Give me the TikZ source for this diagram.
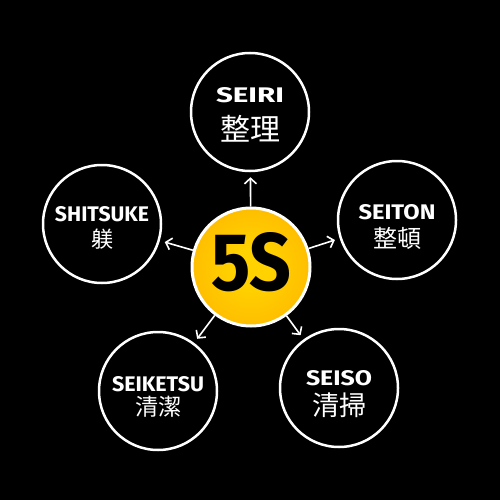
\documentclass[tikz,border=0pt]{standalone}
\usepackage{fontspec}
\setmainfont{Fira Sans}
\newfontfamily\cjk{Noto Sans CJK JP}
\usetikzlibrary{arrows.meta,shadings}
\definecolor{sunin}{HTML}{FFD200}
\definecolor{sunmid}{HTML}{FFB800}
\definecolor{sunout}{HTML}{F39500}
\pgfdeclareradialshading{sun}{\pgfpoint{0bp}{0bp}}{color(0bp)=(sunin); color(8bp)=(sunin); color(30bp)=(sunmid); color(50bp)=(sunout); color(100bp)=(sunout)}
\newcommand\mylab[2]{\resizebox{#1}{15pt}{\bfseries #2}}
\begin{document}
\begin{tikzpicture}[x=1pt,y=-1pt,
  ring/.style={circle,draw=white,line width=2.5pt,minimum size=118pt,inner sep=0pt},
  lbl/.style={text=white,inner sep=0pt},
  kj/.style={text=white,inner sep=0pt},
  arr/.style={white,line width=1.6pt,-{Straight Barb[length=5.5pt,width=12pt]},shorten >=5pt}]
\fill[black] (0,0) rectangle (500,500);
\useasboundingbox (0,0) rectangle (500,500);
% outer circles
\node[ring] (seiri) at (250,112) {};
\node[ring] (seiton) at (397,220) {};
\node[ring] (seiso) at (339,388) {};
\node[ring] (seiketsu) at (158,391) {};
\node[ring] (shitsuke) at (102,224) {};
% centre
\node[circle,draw=white,line width=3pt,minimum size=118pt,inner sep=0pt,shading=sun] (c) at (251,267) {};
\node[inner sep=0pt,text=black] (fs) at (251,262) {\resizebox{80pt}{58pt}{\bfseries 5S}};
% arrows
\draw[arr] (c) -- (seiri);
\draw[arr] (c) -- (seiton);
\draw[arr] (c) -- (seiso);
\draw[arr] (c) -- (seiketsu);
\draw[arr] (c) -- (shitsuke);
% labels
\node[lbl] (t1) at (250,95) {\mylab{68pt}{SEIRI}};
\node[kj,font=\cjk\fontsize{30}{30}\selectfont] (k1) at (250,129) {整理};
\node[lbl] (t2) at (397,212) {\mylab{77pt}{SEITON}};
\node[kj,font=\cjk\fontsize{24}{24}\selectfont] (k2) at (397,238) {整頓};
\node[lbl] (t3) at (339,378) {\mylab{66pt}{SEISO}};
\node[kj,font=\cjk\fontsize{27}{27}\selectfont] (k3) at (339,405) {清掃};
\node[lbl] (t4) at (158,384) {\mylab{92pt}{SEIKETSU}};
\node[kj,font=\cjk\fontsize{23}{23}\selectfont] (k4) at (158,407) {清潔};
\node[lbl] (t5) at (102,214) {\mylab{94pt}{SHITSUKE}};
\node[kj,font=\cjk\fontsize{22}{22}\selectfont] (k5) at (102,239) {躾};
\end{tikzpicture}
\end{document}
